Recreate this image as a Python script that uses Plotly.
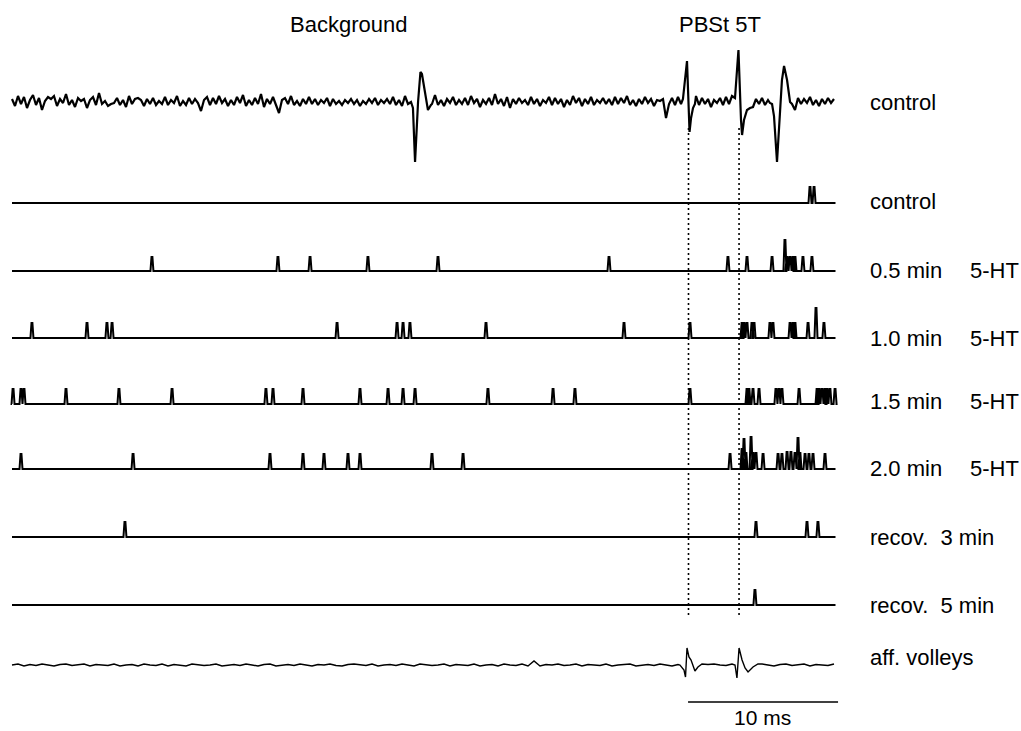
import plotly.graph_objects as go

# ---------------- data ----------------
PX_PER_MS = 15.0          # horizontal calibration: 10 ms scale bar
SAMPLE_MS = 0.2           # sampling step of the raw control trace
AFF_SAMPLE_MS = 0.4       # sampling step of the afferent-volley trace
trace_end_ms = 54.9

header_labels = ["Background", "PBSt 5T"]
row_labels = ["control", "control", "0.5 min", "1.0 min", "1.5 min", "2.0 min",
              "recov.\u00a0\u00a03 min", "recov.\u00a0\u00a05 min", "aff. volleys"]
drug_labels = ["", "", "5-HT", "5-HT", "5-HT", "5-HT", "", "", ""]
scale_bar_ms = 10
scale_label = "10 ms"
stim_times_ms = [45.1, 48.47]

# spike times (ms) and heights for the discriminated unit records
ctrl_t = [53.20, 53.47]
ctrl_h = [16, 16]
t05_t = [9.33, 17.73, 19.87, 23.73, 28.40, 39.80, 47.73, 49.00, 50.67, 51.53,
         51.67, 51.87, 52.07, 52.20, 52.73, 53.33]
t05_h = [14, 14, 14, 14, 14, 14, 14, 14, 14, 31, 14, 14, 14, 14, 14, 14]
t10_t = [1.33, 5.00, 6.33, 6.67, 21.67, 25.67, 26.07, 26.53, 31.60, 40.80,
         45.20, 48.67, 48.80, 49.00, 49.33, 49.47, 50.53, 50.73, 51.87, 52.07,
         52.20, 53.07, 53.60, 54.13]
t10_h = [15, 15, 15, 15, 15, 15, 15, 15, 15, 15,
         15, 15, 15, 15, 15, 15, 15, 15, 15, 15,
         15, 15, 30, 15]
t15_t = [0.07, 0.60, 0.80, 3.60, 7.13, 10.67, 16.93, 17.40, 19.40, 23.20,
         25.07, 26.07, 26.87, 31.73, 36.07, 37.53, 45.20, 49.00, 49.13, 49.40,
         49.80, 50.93, 51.13, 51.33, 52.47, 53.67, 53.80, 54.00, 54.20, 54.33,
         54.53, 54.87]
t15_h = [15] * 32
t20_t = [0.60, 8.07, 17.20, 19.40, 20.80, 22.40, 23.20, 28.00, 30.07, 47.87,
         48.67, 48.80, 48.93, 49.27, 49.40, 49.60, 50.07, 51.07, 51.33, 51.67,
         51.93, 52.20, 52.40, 52.53, 52.87, 53.13, 53.40, 54.20]
t20_h = [15, 15, 15, 15, 15, 15, 15, 15, 15, 15,
         20, 30, 16, 32, 16, 16, 15, 15, 15, 17,
         17, 16, 31, 16, 15, 15, 15, 15]
rec3_t = [7.53, 49.60, 53.00, 53.73]
rec3_h = [15, 15, 15, 15]
rec5_t = [49.53]
rec5_h = [15]

# raw control record: background noise (hand-estimated, px units, + = up)
raw_noise = [
    3, -4, 6, -2, 5, -6, 2, 7, -3, 4, -8, 1, 5, 3, 6, -4, 3, -1, 8, -3, 2, -5, 4, 1, 3,
    -6, 2, 5, -3, 9, -2, 1, -4, -2, -1, 4, -3, 2, -5, 6, -2, 3, 4, 2, -4, 3, -2, 4, -3, 1,
    -2, 5, -3, 2, -1, 6, -4, 1, -3, 4, -2, 3, -1, -9, 2, 5, -3, 4, -2, 6, -1, 3, -4, 2, -3,
    5, -1, 7, -4, 2, -3, 4, -2, 8, -5, 3, -2, 5, -3, -11, 2, 4, -2, 6, -3, 1, -4, 3, -2, 5,
    -2, 3, -3, 2, -1, 4, -4, 3, -2, 1, -3, 2, -1, 3, -2, 2, -4, 1, -2, 3, -1, 4, -3, 2, -1,
    3, -2, 5, -3, 2, -4, 6, -2, 3, -1, 5, -3, 2, -5, 4, -2, 7, -3, 2, -4, 3, -1, 5, -3, 2,
    -2, 4, -3, 6, -1, 3, -5, 2, -2, 4, -3, 8, -2, 3, -4, 5, -6, 3, -2, 4, -1, 2, -3, 5, -2,
    3, -4, 2, -1, 5, -3, 4, -2, 3, -5, 2, -3, 6, -1, 4, -4, 3, -2, 5, -3, 2, -1, 4, -2, 3,
    -3, 5, -2, 4, -1, 6, -3, 2, -4, 3, -2, 5, -1, 3, -4, 2, 1, 3, -16, -2, 4, -3, 5, -2, 3,
    -4, 2, -1, 6, -3, 4, -2, 3, -5, 2, -1, 4, -3, 5, -2, 6, -3, 2, -1, 4, -2, 3, -5, 3, -2,
    4, -3, 2, -1, 5, -4, 3, -2, 6, -3, 2, -8, 4, -2, 3, -1, 5, -3, 2, -4, 3, -2, 4, -1, 3,
]
# raw control record: evoked / spontaneous spike waveforms (time ms, amplitude)
raw_events = [
    [(26.60, 0), (26.73, -6), (26.87, -60), (27.07, 0), (27.23, 30), (27.33, 28),
     (27.53, 10), (27.73, -8), (27.93, -3)],
    [(44.73, 3), (45.00, 41), (45.10, -15), (45.17, -30), (45.27, -16), (45.40, -6),
     (45.53, -2)],
    [(48.20, 4), (48.43, 52), (48.60, -18), (48.67, -33), (48.80, -18), (49.00, -8),
     (49.20, -6)],
    [(50.53, -1), (50.67, -2), (50.80, -14), (51.00, -60), (51.20, -5), (51.33, 22),
     (51.47, 36), (51.67, 22), (51.87, 0), (52.00, -2)],
]

# afferent volley record
aff_noise = [
    0, 1, -1, 0.5, -0.5, 1, 0, -1, 0.5, 1, -0.5, 0, 1, -1, 0.5, 0, -0.5, 1, -1, 0, 0.5, -1, 1, 0, -0.5,
    1, -1, 0.5, 0, -1, 1, 0.5, -0.5, 0, 1, -1, 0, 0.5, -0.5, 1, 0, -1, 0.5, 1, -1, 0, 0.5, -0.5, 1, 0,
    -1, 0.5, 0, 1, -0.5, -1, 0.5, 1, 0, -0.5, 1, -1, 0, 0.5, -0.5, 1, 0, -1, 1, 0.5, -0.5, 0, 1, -1, 0.5,
    0, -0.5, 1, -1, 0, 0.5, -1, 1, 0, -0.5, 1, -1, 4, -1, 0.5, 0, 1, -0.5, 0, 1, -1, 0.5, 0, -0.5, 1,
    -1, 0, 0.5, 1, -1, 0, 0.5, -0.5, 1, 0, -1, 0.5, 0, 1, -0.5, -1, 0.5, 1, 0, -0.5, 1, -1, 0, 0.5, -0.5,
    1, 0, -1, 0.5, 1, -0.5, 0, 1, -1, 0.5, 0, -0.5, 1,
]
aff_events = [
    [(44.53, 0), (44.80, -5), (44.90, -12), (45.00, 17), (45.13, 8), (45.27, 5),
     (45.53, -6), (45.73, -2), (46.00, 1)],
    [(48.20, 0), (48.33, -13), (48.47, 17), (48.67, 5), (48.87, -3), (49.07, -7),
     (49.40, -2), (49.73, 1)],
]

# ---------------- layout positions (pixels) ----------------
W, H = 1021, 731
X0_PX = 12
row_base_px = [102, 203, 271, 338, 404, 469, 537, 605, 665]
label_y_px = [102, 202, 271, 338, 401, 468, 537, 605, 657]
LABEL_X_PX = 868
DRUG_X_PX = 968
FONT = "Liberation Sans, Arial, Helvetica, sans-serif"
FS = 22


def px_to_ms(px):
    return (px - X0_PX) / PX_PER_MS


def spike_train(times, heights, base):
    xs, ys = [0.0], [base]
    for t, h in zip(times, heights):
        xs += [t - 0.1, t - 0.03, t + 0.03, t + 0.1]
        ys += [base, base - h, base - h, base]
    xs.append(trace_end_ms)
    ys.append(base)
    return xs, ys


def noisy_record(noise, step, events, base):
    windows = [(ev[0][0], ev[-1][0]) for ev in events]
    pts = []
    for i, v in enumerate(noise):
        t = i * step
        if any(a <= t <= b for a, b in windows):
            continue
        pts.append((t, v))
    for ev in events:
        pts += ev
    pts.sort()
    return [p[0] for p in pts], [base - p[1] for p in pts]


fig = go.Figure()
line = dict(color="black", width=2)

# raw control
x, y = noisy_record(raw_noise, SAMPLE_MS, raw_events, row_base_px[0])
fig.add_trace(go.Scatter(x=x, y=y, mode="lines", line=dict(color="black", width=2.2)))

# discriminated spike records
trains = [(ctrl_t, ctrl_h), (t05_t, t05_h), (t10_t, t10_h), (t15_t, t15_h),
          (t20_t, t20_h), (rec3_t, rec3_h), (rec5_t, rec5_h)]
for k, (tt, hh) in enumerate(trains):
    x, y = spike_train(tt, hh, row_base_px[k + 1])
    fig.add_trace(go.Scatter(x=x, y=y, mode="lines", line=line))

# afferent volleys
x, y = noisy_record(aff_noise, AFF_SAMPLE_MS, aff_events, row_base_px[8])
fig.add_trace(go.Scatter(x=x, y=y, mode="lines", line=dict(color="black", width=1.4)))

# dotted stimulus markers
for st in stim_times_ms:
    fig.add_trace(go.Scatter(x=[st, st], y=[128, 618], mode="lines",
                             line=dict(color="black", width=1.6, dash="2px,3px")))

# scale bar
sb_start = stim_times_ms[0] - 0.03
fig.add_trace(go.Scatter(x=[sb_start, sb_start + scale_bar_ms], y=[702, 702], mode="lines",
                         line=dict(color="black", width=1.4)))

ann = []
ann.append(dict(x=348 / W, y=1 - 24 / H, text=header_labels[0], xanchor="center"))
ann.append(dict(x=720 / W, y=1 - 24 / H, text=header_labels[1], xanchor="center"))
for lab, drug, ly in zip(row_labels, drug_labels, label_y_px):
    ann.append(dict(x=LABEL_X_PX / W, y=1 - ly / H, text=lab, xanchor="left"))
    if drug:
        ann.append(dict(x=DRUG_X_PX / W, y=1 - ly / H, text=drug, xanchor="left"))
ann.append(dict(x=762 / W, y=1 - 717 / H, text=scale_label, xanchor="center"))
for a in ann:
    a.update(xref="paper", yref="paper", yanchor="middle", showarrow=False,
             font=dict(family=FONT, size=FS, color="black"))
ann[-1]["font"] = dict(family=FONT, size=21, color="black")

fig.update_layout(
    width=W, height=H,
    margin=dict(l=0, r=0, t=0, b=0),
    paper_bgcolor="white", plot_bgcolor="white",
    showlegend=False,
    xaxis=dict(range=[px_to_ms(0), px_to_ms(W)], visible=False, fixedrange=True),
    yaxis=dict(range=[H, 0], visible=False, fixedrange=True),
    annotations=ann,
)
fig.write_html(
    "out.html",
    config={"displayModeBar": False},
    post_script="document.body.style.margin='0px';document.body.style.overflow='hidden';",
)
